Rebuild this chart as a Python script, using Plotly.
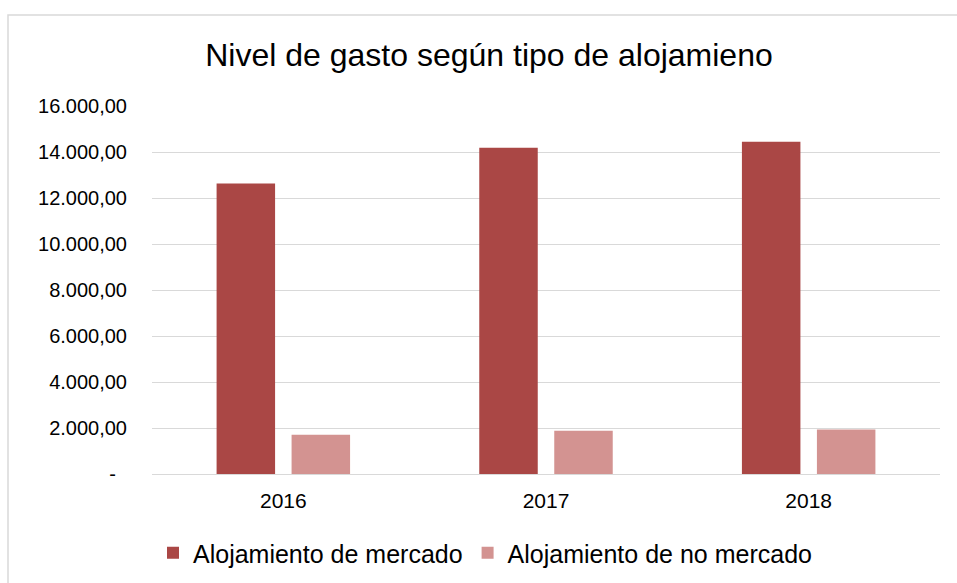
import plotly.graph_objects as go

years = ["2016", "2017", "2018"]
mercado = [12630, 14190, 14450]
no_mercado = [1710, 1880, 1930]
series_names = ["Alojamiento de mercado", "Alojamiento de no mercado"]
y_tickvals = [0, 2000, 4000, 6000, 8000, 10000, 12000, 14000, 16000]
y_ticktext = ["-\u00a0\u00a0", "2.000,00", "4.000,00", "6.000,00", "8.000,00", "10.000,00",
              "12.000,00", "14.000,00", "16.000,00"]
title_text = "Nivel de gasto según tipo de alojamieno"

FONT = "Liberation Sans, Arial, sans-serif"

fig = go.Figure()
fig.add_trace(go.Bar(x=years, y=mercado, name=series_names[0],
                     marker=dict(color="#AA4745", line=dict(width=0))))
fig.add_trace(go.Bar(x=years, y=no_mercado, name=series_names[1],
                     marker=dict(color="#D39391", line=dict(width=0))))

fig.update_layout(
    width=957, height=583,
    margin=dict(l=152, r=17, t=106, b=109),
    paper_bgcolor="white", plot_bgcolor="white",
    barmode="group", bargap=0.429, bargroupgap=0.22,
    font=dict(family=FONT, color="#000000"),
    title=dict(text=title_text, font=dict(family=FONT, size=32, color="#000000"),
               xref="container", x=489 / 957, xanchor="center",
               yref="container", y=1 - 55 / 583, yanchor="middle"),
    legend=dict(orientation="h", xref="container", x=485 / 957, xanchor="center",
                yref="container", y=1 - 553 / 583, yanchor="middle",
                font=dict(family=FONT, size=25, color="#000000"),
                itemwidth=30, traceorder="normal"),
    showlegend=True,
)
fig.update_xaxes(showgrid=False, showline=False, ticks="", ticklabelstandoff=12,
                 tickfont=dict(family=FONT, size=21, color="#000000"))
fig.update_yaxes(range=[0, 16000], tickvals=y_tickvals, ticktext=y_ticktext,
                 showgrid=True, gridcolor="#D9D9D9", gridwidth=1,
                 zeroline=True, zerolinecolor="#D9D9D9", zerolinewidth=1,
                 showline=False, ticks="", ticklabelstandoff=24,
                 tickfont=dict(family=FONT, size=20, color="#000000"))

# outer chart border (light grey frame)
fig.add_shape(type="rect", xref="paper", yref="paper",
              x0=(8 - 152) / 788, x1=1.2, y0=-0.5, y1=(474 - 15) / 368,
              line=dict(color="#D9D9D9", width=1.5), fillcolor="rgba(0,0,0,0)",
              layer="below")

fig.write_html("out.html", config={"displayModeBar": False},
               post_script="document.body.style.margin='0';document.body.style.padding='0';")
